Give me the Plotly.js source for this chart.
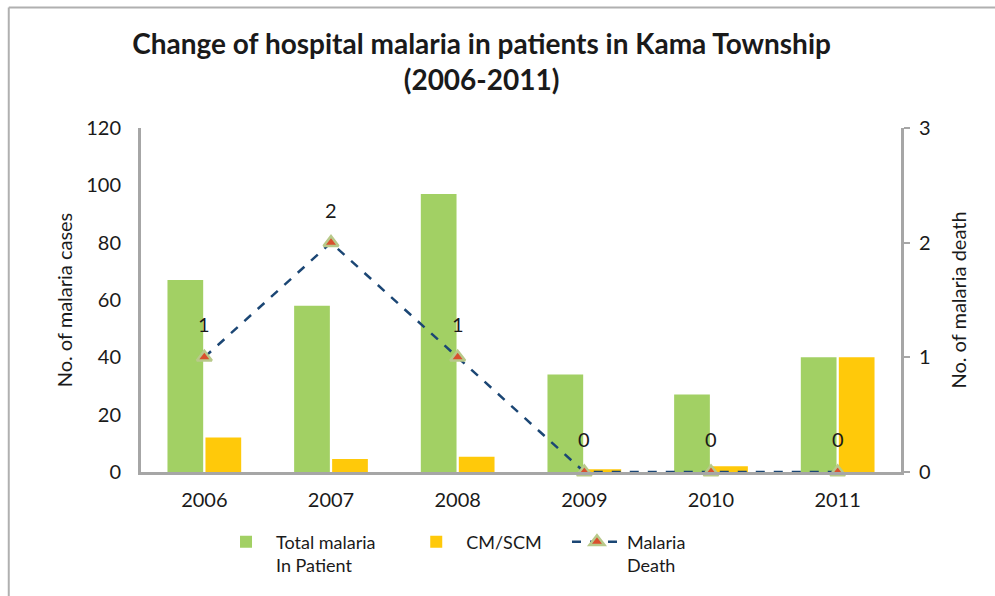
<!DOCTYPE html>
<html>
<head>
<meta charset="utf-8">
<script src="https://cdn.plot.ly/plotly-3.0.1.min.js"></script>
<style>
  html, body { margin: 0; padding: 0; background: #fff; }
  #chart { width: 995px; height: 596px; }
</style>
</head>
<body>
<div id="chart"></div>
<script>
// ---- data ----
const years = ['2006', '2007', '2008', '2009', '2010', '2011'];
const totalInPatient = [67, 58, 97, 34, 27, 40];
const cmScm = [12, 4.5, 5.3, 1, 2, 40];
const deaths = [1, 2, 1, 0, 0, 0];
const seriesNames = ['Total malaria<br>In Patient', 'CM/SCM', 'Malaria<br>Death'];

const FONT = 'Lato, "Open Sans", sans-serif';
const TXT = '#1a1a1a';
const AXIS = '#A6A6A6';

const traces = [
  {
    type: 'bar', x: years, y: totalInPatient, name: seriesNames[0],
    marker: { color: '#A2D064' }, yaxis: 'y', legend: 'legend'
  },
  {
    type: 'bar', x: years, y: cmScm, name: seriesNames[1],
    marker: { color: '#FFC90A' }, yaxis: 'y', legend: 'legend2'
  },
  {
    type: 'scatter', mode: 'lines+markers', x: years, y: deaths, name: seriesNames[2],
    yaxis: 'y2', cliponaxis: false, legend: 'legend3',
    line: { color: '#1B4674', width: 2.5, dash: 'dash' },
    marker: { symbol: 'triangle-up', size: 13, color: '#D9502E', line: { color: '#B8C98A', width: 2.5 } }
  }
];

// data labels on the death series (x given as category index)
const annotations = years.map((yr, i) => ({
  x: i, y: deaths[i], xref: 'x', yref: 'y2',
  text: String(deaths[i]), showarrow: false, yshift: 33,
  font: { family: FONT, size: 20, color: TXT }
}));

function legendAt(xp) {
  return {
    orientation: 'h', x: xp, xanchor: 'left', y: -0.15, yanchor: 'top',
    font: { family: FONT, size: 18, color: TXT },
    valign: 'top', itemwidth: 50, bgcolor: 'rgba(0,0,0,0)'
  };
}

const layout = {
  width: 995, height: 596,
  paper_bgcolor: '#fff', plot_bgcolor: '#fff',
  margin: { l: 141, r: 94, t: 128, b: 122 },
  font: { family: FONT, size: 20, color: TXT },
  title: {
    text: '<b>Change of hospital malaria in patients in Kama Township<br>(2006-2011)</b>',
    font: { family: FONT, size: 28, color: TXT },
    xref: 'container', x: 0.484, xanchor: 'center',
    yref: 'container', y: 0.91, yanchor: 'top'
  },
  barmode: 'group', bargap: 0.4, bargroupgap: 0.06,
  showlegend: true,
  legend: legendAt(0.0987),
  legend2: legendAt(0.349),
  legend3: legendAt(0.5605),
  xaxis: {
    type: 'category', range: [-0.5, 5.5], showgrid: false, zeroline: false,
    showline: true, linecolor: AXIS, linewidth: 3,
    ticks: '', ticklabelstandoff: 8,
    tickfont: { family: FONT, size: 20, color: TXT }
  },
  yaxis: {
    range: [0, 120], dtick: 20, showgrid: false, zeroline: false,
    showline: true, linecolor: AXIS, linewidth: 3, ticks: '',
    ticklabelstandoff: 13,
    tickfont: { family: FONT, size: 20, color: TXT },
    title: { text: 'No. of malaria cases', font: { family: FONT, size: 20, color: TXT }, standoff: 9 }
  },
  yaxis2: {
    overlaying: 'y', side: 'right', range: [0, 3], dtick: 1,
    showgrid: false, zeroline: false,
    showline: true, linecolor: AXIS, linewidth: 3,
    ticks: 'outside', ticklen: 6, tickwidth: 2, tickcolor: AXIS,
    ticklabelstandoff: 5,
    tickfont: { family: FONT, size: 20, color: TXT },
    title: { text: 'No. of malaria death', font: { family: FONT, size: 20, color: TXT }, standoff: 23 }
  },
  annotations: annotations,
  shapes: [
    { type: 'line', xref: 'paper', yref: 'paper', x0: -0.174, x1: 1.2, y0: 1.35, y1: 1.35,
      line: { color: '#B0B0B0', width: 2 } },
    { type: 'line', xref: 'paper', yref: 'paper', x0: -0.174, x1: -0.174, y0: 1.35, y1: -0.4,
      line: { color: '#B0B0B0', width: 2 } }
  ]
};

Plotly.newPlot('chart', traces, layout, { displayModeBar: false, staticPlot: true });
</script>
</body>
</html>
